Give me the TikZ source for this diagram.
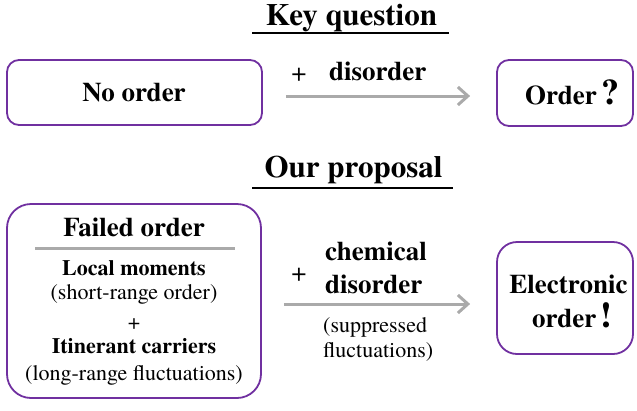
\documentclass[tikz,border=0pt]{standalone}
\usepackage{fontspec}
\setmainfont{texgyretermes}[Extension=.otf, UprightFont=*-regular, BoldFont=*-bold, ItalicFont=*-italic, BoldItalicFont=*-bolditalic]
\usetikzlibrary{arrows.meta,calc}
\definecolor{boxpurple}{RGB}{112,48,160}
\definecolor{arrowgray}{RGB}{170,170,170}
\begin{document}
\begin{tikzpicture}[x=1pt,y=-1pt,
  boxnode/.style={draw=boxpurple, line width=1.8pt, rectangle, inner sep=0pt},
  titletext/.style={font=\fontsize{31}{36}\selectfont\bfseries, inner sep=0pt},
  maintext/.style={font=\fontsize{27}{32}\selectfont\bfseries, inner sep=0pt},
  plustext/.style={font=\fontsize{27}{32}\selectfont, inner sep=0pt},
  innerbold/.style={font=\fontsize{22}{26}\selectfont\bfseries, inner sep=0pt},
  innertext/.style={font=\fontsize{22}{26}\selectfont, inner sep=0pt},
  arr/.style={draw=arrowgray, line width=3pt, -{Straight Barb[length=10pt,width=18pt]}},
  ul/.style={line width=2.5pt}]
\useasboundingbox (0,0) rectangle (637,410);

% ---- Key question ----
\node[titletext, anchor=base] (keyq) at (351.5,25) {Key question};
\draw[ul] (252,33) -- (449,33);

\node[boxnode, rounded corners=12pt, minimum width=255pt, minimum height=65pt] (noorder) at (134.5,92.5) {};
\node[maintext, anchor=base] (noordertxt) at (134,101) {No order};

\node[boxnode, rounded corners=12pt, minimum width=136pt, minimum height=66pt] (order) at (565,93) {};
\node[maintext, anchor=base west] (ordertxt) at (525,104) {Order\,{\fontsize{36}{40}\selectfont ?}};

\coordinate (a1s) at ([shift={(23,3.5)}]noorder.east);
\draw[arr] (a1s) -- ($(a1s -| order.west)+(-26,0)$);
\node[plustext] (plus1) at (299,75) {+};
\node[maintext, anchor=base west] (dis1) at (329,80) {disorder};

% ---- Our proposal ----
\node[titletext, anchor=base] (ourp) at (353.5,177) {Our proposal};
\draw[ul] (252,188) -- (453,188);

\node[boxnode, rounded corners=24pt, minimum width=254pt, minimum height=194pt] (failed) at (134,301) {};
\node[maintext, anchor=base] (failedtxt) at (134,236) {Failed order};
\draw[draw=arrowgray, line width=3pt] (35,248) -- (235,248);
\node[innerbold, anchor=base] (local) at (134,275) {Local moments};
\node[innertext, anchor=base] (short) at (134,299) {(short-range order)};
\node[innertext] (plusin) at (134,324) {+};
\node[innerbold, anchor=base] (itin) at (134,353) {Itinerant carriers};
\node[innertext, anchor=base] (long) at (134,380) {(long-range fluctuations)};

\node[boxnode, rounded corners=20pt, minimum width=136pt, minimum height=112pt] (elec) at (565,298) {};
\node[maintext, anchor=base] (electxt) at (568.5,293) {Electronic};
\node[maintext, anchor=base west] (ordtxt2) at (532,327) {order\,{\fontsize{36}{40}\selectfont !}};

\coordinate (a2s) at ([shift={(22,3)}]failed.east);
\draw[arr] (a2s) -- ($(a2s -| elec.west)+(-26,0)$);
\node[plustext] (plus2) at (299,275) {+};
\node[maintext, anchor=base west] (chem) at (325,260) {chemical};
\node[maintext, anchor=base west] (dis2) at (325,293) {disorder};
\node[innertext, anchor=base west] (supp) at (323,332) {(suppressed};
\node[innertext, anchor=base west] (fluct) at (323,357) {fluctuations)};
\end{tikzpicture}
\end{document}
